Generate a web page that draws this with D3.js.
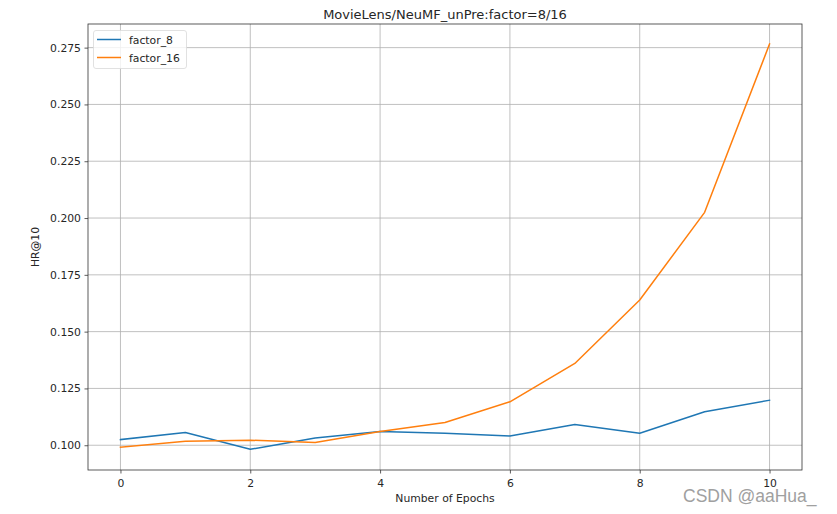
<!DOCTYPE html>
<html><head><meta charset="utf-8">
<script src="https://cdn.jsdelivr.net/npm/d3@7"></script>
<style>body{margin:0;background:#fff}svg{display:block}text{font-family:"DejaVu Sans",sans-serif;fill:#262626}</style>
</head><body>
<script>
const epochs = [0,1,2,3,4,5,6,7,8,9,10];
const factor8 = [0.1025,0.1056,0.0982,0.1032,0.1060,0.1053,0.1041,0.1091,0.1053,0.1147,0.1198];
const factor16 = [0.0991,0.1018,0.1022,0.1012,0.1060,0.1100,0.1191,0.1360,0.1639,0.2025,0.2766];
const seriesNames = ["factor_8","factor_16"];
const colors = ["#1f77b4","#ff7f0e"];
const yTicks = [0.100,0.125,0.150,0.175,0.200,0.225,0.250,0.275];
const xTicks = [0,2,4,6,8,10];

const W=837,H=514;
const m={l:88,t:24,r:802,b:470};
const svg=d3.select("body").append("svg").attr("width",W).attr("height",H);
const x=d3.scaleLinear().domain([-0.5,10.5]).range([m.l,m.r]);
const y=d3.scaleLinear().domain([0.0891,0.2854]).range([m.b,m.t]);

// grid
svg.append("g").selectAll("line").data(xTicks).join("line")
 .attr("x1",d=>x(d)).attr("x2",d=>x(d)).attr("y1",m.t).attr("y2",m.b)
 .attr("stroke","#b0b0b0").attr("stroke-width",0.8);
svg.append("g").selectAll("line").data(yTicks).join("line")
 .attr("y1",d=>y(d)).attr("y2",d=>y(d)).attr("x1",m.l).attr("x2",m.r)
 .attr("stroke","#b0b0b0").attr("stroke-width",0.8);

// lines
const series=[factor8,factor16];
const line=d3.line().x((d,i)=>x(epochs[i])).y(d=>y(d));
series.forEach((s,k)=>{
 svg.append("path").datum(s).attr("d",line).attr("fill","none")
  .attr("stroke",colors[k]).attr("stroke-width",1.5).attr("stroke-linejoin","round").attr("stroke-linecap","square");
});

// axes
const xa=svg.append("g").attr("transform",`translate(0,${m.b})`)
 .call(d3.axisBottom(x).tickValues(xTicks).tickFormat(d3.format("d")).tickSize(3.5).tickPadding(3.5));
const ya=svg.append("g").attr("transform",`translate(${m.l},0)`)
 .call(d3.axisLeft(y).tickValues(yTicks).tickFormat(d3.format(".3f")).tickSize(3.5).tickPadding(3.5));
[xa,ya].forEach(a=>{a.select(".domain").remove();a.selectAll("text").style("font-size","10.8px").attr("fill","#262626");a.selectAll("line").attr("stroke","#333").attr("stroke-width",0.8);});
xa.selectAll("text").attr("dy","0.95em");

// frame
svg.append("rect").attr("x",m.l).attr("y",m.t).attr("width",m.r-m.l).attr("height",m.b-m.t)
 .attr("fill","none").attr("stroke","#333").attr("stroke-width",0.8);

// title and labels
svg.append("text").attr("x",(m.l+m.r)/2).attr("y",19).attr("text-anchor","middle")
 .style("font-size","13px").text("MovieLens/NeuMF_unPre:factor=8/16");
svg.append("text").attr("x",(m.l+m.r)/2).attr("y",502).attr("text-anchor","middle")
 .style("font-size","10.8px").text("Number of Epochs");
svg.append("text").attr("transform",`translate(39,${(m.t+m.b)/2}) rotate(-90)`).attr("text-anchor","middle")
 .style("font-size","10.8px").text("HR@10");

// legend
const lg=svg.append("g");
lg.append("rect").attr("x",93.5).attr("y",30.5).attr("width",93).attr("height",38).attr("rx",2.5)
 .attr("fill","#fff").attr("fill-opacity",0.8).attr("stroke","#d9d9d9").attr("stroke-width",0.8);
seriesNames.forEach((n,k)=>{
 const yy=39.5+k*18;
 lg.append("line").attr("x1",97).attr("x2",121).attr("y1",yy).attr("y2",yy).attr("stroke",colors[k]).attr("stroke-width",1.5);
 lg.append("text").attr("x",129).attr("y",yy+4).style("font-size","10.8px").text(n);
});

// watermark
svg.append("text").attr("x",683).attr("y",502).style("font-family","'Liberation Sans',Arial,sans-serif")
 .style("font-size","17.5px").attr("fill","#a0a0a0").style("fill","#a0a0a0").text("CSDN @aaHua_");
</script>
</body></html>
